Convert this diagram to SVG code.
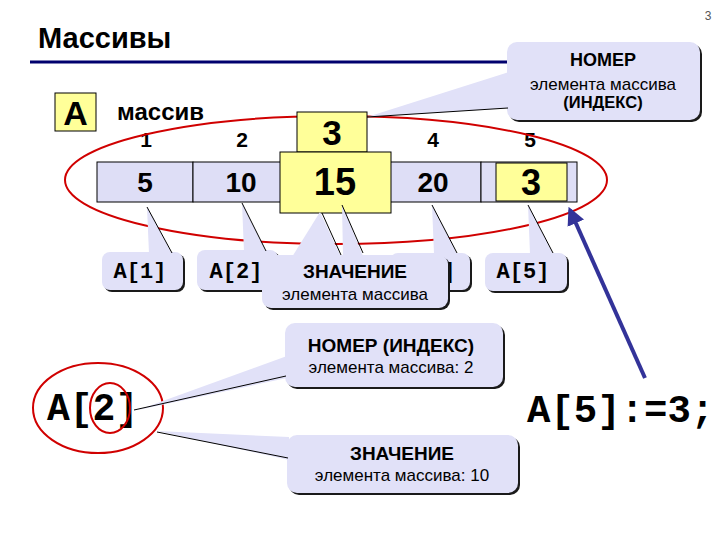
<svg xmlns="http://www.w3.org/2000/svg" width="720" height="540" viewBox="0 0 720 540">
<defs>
<style>
.sans{font-family:"Liberation Sans",Arial,sans-serif}
.mono{font-family:"Liberation Mono","Courier New",monospace;font-weight:bold}
.b{font-weight:bold}
.cell{fill:#DEDEF6;stroke:#000;stroke-width:1}
.yel{fill:#FFFF99;stroke:#000;stroke-width:1}
.co{fill:#E1E1F8}
.sh{fill:#1a1a1a}
.pl{stroke:#000;stroke-width:1;fill:none}
.red{fill:none;stroke:#D00000;stroke-width:2}
</style>
<marker id="ah" viewBox="0 0 10 10" refX="8" refY="5" markerWidth="4.5" markerHeight="4.5" orient="auto">
<path d="M0,0 L10,5 L0,10 z" fill="#333399"/>
</marker>
</defs>
<rect width="720" height="540" fill="#fff"/>
<text class="sans" x="708" y="20" font-size="12" fill="#555" text-anchor="middle">3</text>
<g id="title">
<text class="sans b" x="38" y="48" font-size="29">Массивы</text>
<line x1="30" y1="62" x2="508" y2="62" stroke="#00006E" stroke-width="3"/>
</g>
<g id="label-A">
<rect x="55" y="93" width="41" height="38" class="yel"/>
<text class="sans b" x="75.5" y="125" font-size="34" text-anchor="middle">A</text>
</g>
<text class="sans b" x="117" y="120" font-size="24">массив</text>
<g id="indices" class="sans b" font-size="21" text-anchor="middle">
<text x="146" y="147">1</text>
<text x="242" y="147">2</text>
<text x="433" y="147">4</text>
<text x="530" y="147">5</text>
</g>
<g id="array">
<rect x="97" y="162" width="96" height="40" class="cell"/>
<rect x="193" y="162" width="96" height="40" class="cell"/>
<rect x="289" y="162" width="96" height="40" class="cell"/>
<rect x="385" y="162" width="96" height="40" class="cell"/>
<rect x="481" y="162" width="96" height="40" class="cell"/>
<text class="sans b" x="145" y="192" font-size="28" text-anchor="middle">5</text>
<text class="sans b" x="241" y="192" font-size="28" text-anchor="middle">10</text>
<text class="sans b" x="433" y="192" font-size="28" text-anchor="middle">20</text>
</g>
<ellipse id="array-ring" cx="336" cy="180" rx="271" ry="64" class="red"/>
<g id="elem3">
<rect x="297" y="112" width="70" height="40" class="yel"/>
<text class="sans b" x="332" y="145" font-size="35" text-anchor="middle">3</text>
<rect x="280" y="152" width="111" height="61" class="yel"/>
<text class="sans b" x="335" y="195" font-size="38" text-anchor="middle">15</text>
</g>
<g id="elem5">
<rect x="496" y="163" width="71" height="38" class="yel"/>
<text class="sans b" x="531" y="195" font-size="36" text-anchor="middle">3</text>
</g>
<g id="callout-index-top">
<rect x="509" y="44" width="193" height="78" rx="10" class="sh"/>
<rect x="507" y="42" width="193" height="78" rx="10" class="co"/>
<polygon points="509,72 509,108 367,117" class="co"/>
<line x1="367" y1="117" x2="508" y2="108" class="pl"/>
<text class="sans b" x="603" y="66" font-size="18" text-anchor="middle">НОМЕР</text>
<text class="sans" x="603" y="90" font-size="17" text-anchor="middle">элемента массива</text>
<text class="sans b" x="603" y="108" font-size="16.5" text-anchor="middle">(ИНДЕКС)</text>
</g>
<g id="callout-a1">
<rect x="104" y="254" width="81" height="38" rx="8" class="sh"/>
<rect x="102" y="252" width="81" height="38" rx="8" class="co"/>
<polygon points="147,207 149,254 172,254" class="co"/>
<line x1="147" y1="207" x2="172" y2="253" class="pl"/>
<text class="mono" x="140" y="278" font-size="22" text-anchor="middle">A[1]</text>
</g>
<g id="callout-a2">
<rect x="199" y="252" width="81" height="40" rx="8" class="sh"/>
<rect x="197" y="250" width="81" height="40" rx="8" class="co"/>
<polygon points="242,203 244,252 266,252" class="co"/>
<line x1="242" y1="203" x2="266" y2="251" class="pl"/>
<text class="mono" x="236" y="278" font-size="22" text-anchor="middle">A[2]</text>
</g>
<g id="callout-a3-pointer">
<polygon points="342,205 343,256 363,256" class="co"/>
<line x1="342" y1="205" x2="363" y2="253" class="pl"/>
</g>
<g id="callout-a4">
<rect x="392" y="255" width="80" height="37" rx="8" class="sh"/>
<rect x="390" y="253" width="80" height="37" rx="8" class="co"/>
<polygon points="432,205 434,254 457,254" class="co"/>
<line x1="432" y1="205" x2="457" y2="253" class="pl"/>
<text class="mono" x="429" y="278" font-size="22" text-anchor="middle">A[4]</text>
</g>
<g id="callout-a5">
<rect x="487" y="255" width="82" height="38" rx="8" class="sh"/>
<rect x="485" y="253" width="82" height="38" rx="8" class="co"/>
<polygon points="528,205 530,254 553,254" class="co"/>
<line x1="528" y1="205" x2="553" y2="253" class="pl"/>
<text class="mono" x="523" y="278" font-size="22" text-anchor="middle">A[5]</text>
</g>
<g id="callout-value-mid">
<rect x="264" y="257" width="186" height="53" rx="9" class="sh"/>
<rect x="262" y="255" width="186" height="53" rx="9" class="co"/>
<polygon points="320,212 292,257 341,257" class="co"/>
<line x1="322" y1="213" x2="341" y2="255" class="pl"/>
<text class="sans b" x="355" y="278" font-size="19" text-anchor="middle">ЗНАЧЕНИЕ</text>
<text class="sans" x="355" y="300" font-size="17" text-anchor="middle">элемента массива</text>
</g>
<g id="a2-expr">
<ellipse cx="98" cy="408" rx="65" ry="45" class="red"/>
<text class="mono" x="47" y="420" font-size="38">A[2]</text>
<ellipse cx="110" cy="408" rx="20" ry="25" class="red"/>
</g>
<g id="callout-index-bottom">
<rect x="287" y="325" width="218" height="64" rx="10" class="sh"/>
<rect x="285" y="323" width="218" height="64" rx="10" class="co"/>
<polygon points="287,356 287,378 138,410" class="co"/>
<line x1="134" y1="410" x2="286" y2="376" class="pl" stroke-width="1.5"/>
<text class="sans b" x="391" y="352" font-size="19" text-anchor="middle">НОМЕР (ИНДЕКС)</text>
<text class="sans" x="391" y="373" font-size="17" text-anchor="middle">элемента массива: 2</text>
</g>
<g id="callout-value-bottom">
<rect x="289" y="437" width="231" height="58" rx="10" class="sh"/>
<rect x="287" y="435" width="231" height="58" rx="10" class="co"/>
<polygon points="157,431 289,437 289,460" class="co"/>
<line x1="157" y1="432" x2="288" y2="458" class="pl" stroke-width="1.5"/>
<text class="sans b" x="402" y="460" font-size="19" text-anchor="middle">ЗНАЧЕНИЕ</text>
<text class="sans" x="402" y="481" font-size="17" text-anchor="middle">элемента массива: 10</text>
</g>
<text id="assign" class="mono" x="527" y="422" font-size="39">A[5]:=3;</text>
<g id="connectors">
<line x1="645" y1="378" x2="570" y2="210" stroke="#333399" stroke-width="4" marker-end="url(#ah)"/>
</g>
</svg>
